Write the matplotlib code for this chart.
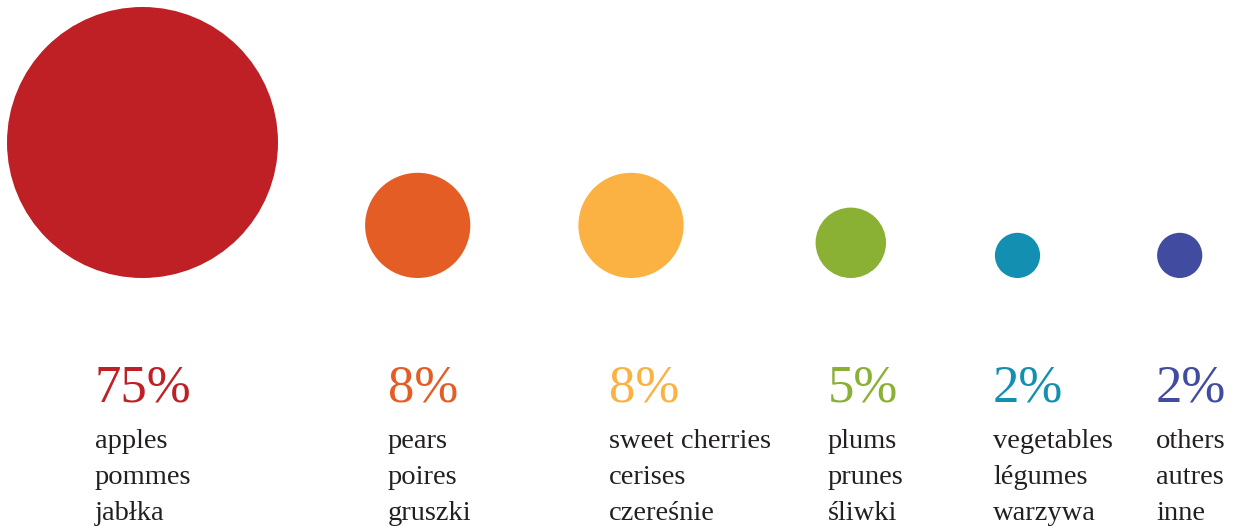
import matplotlib.pyplot as plt
from matplotlib.patches import Circle

# Data
shares = [75, 8, 8, 5, 2, 2]
names_en = ["apples", "pears", "sweet cherries", "plums", "vegetables", "others"]
names_fr = ["pommes", "poires", "cerises", "prunes", "légumes", "autres"]
names_pl = ["jabłka", "gruszki", "czereśnie", "śliwki", "warzywa", "inne"]
# circle radius as drawn in the chart (pixels)
bubble_r = [135.5, 52.6, 52.6, 35.2, 22.6, 22.6]

colors = ["#BE2025", "#E35D25", "#FBB242", "#8AB034", "#138FB2", "#414B9F"]
text_color = "#231F20"

# layout (pixels)
circle_x = [142.5, 417.7, 631.0, 850.8, 1017.5, 1179.7]
text_x = [95, 388, 609, 828, 993, 1156]
circle_bottom = 278
pct_baseline = 402
label_baselines = [448, 484.5, 520.5]

plt.rcParams['font.family'] = ['Liberation Serif', 'DejaVu Serif']

fig = plt.figure(figsize=(12.36, 5.29), dpi=100)
ax = fig.add_axes([0, 0, 1, 1])
ax.set_xlim(0, 1236)
ax.set_ylim(529, 0)
ax.axis('off')

for i in range(len(shares)):
    r = bubble_r[i]
    ax.add_patch(Circle((circle_x[i], circle_bottom - r), r, color=colors[i], lw=0))
    ax.text(text_x[i], pct_baseline, f"{shares[i]}%", color=colors[i],
            fontsize=38, va='baseline', ha='left')
    for y, name in zip(label_baselines, [names_en[i], names_fr[i], names_pl[i]]):
        ax.text(text_x[i], y, name, color=text_color, fontsize=20.5,
                va='baseline', ha='left')

fig.savefig("out.png", dpi=100)
